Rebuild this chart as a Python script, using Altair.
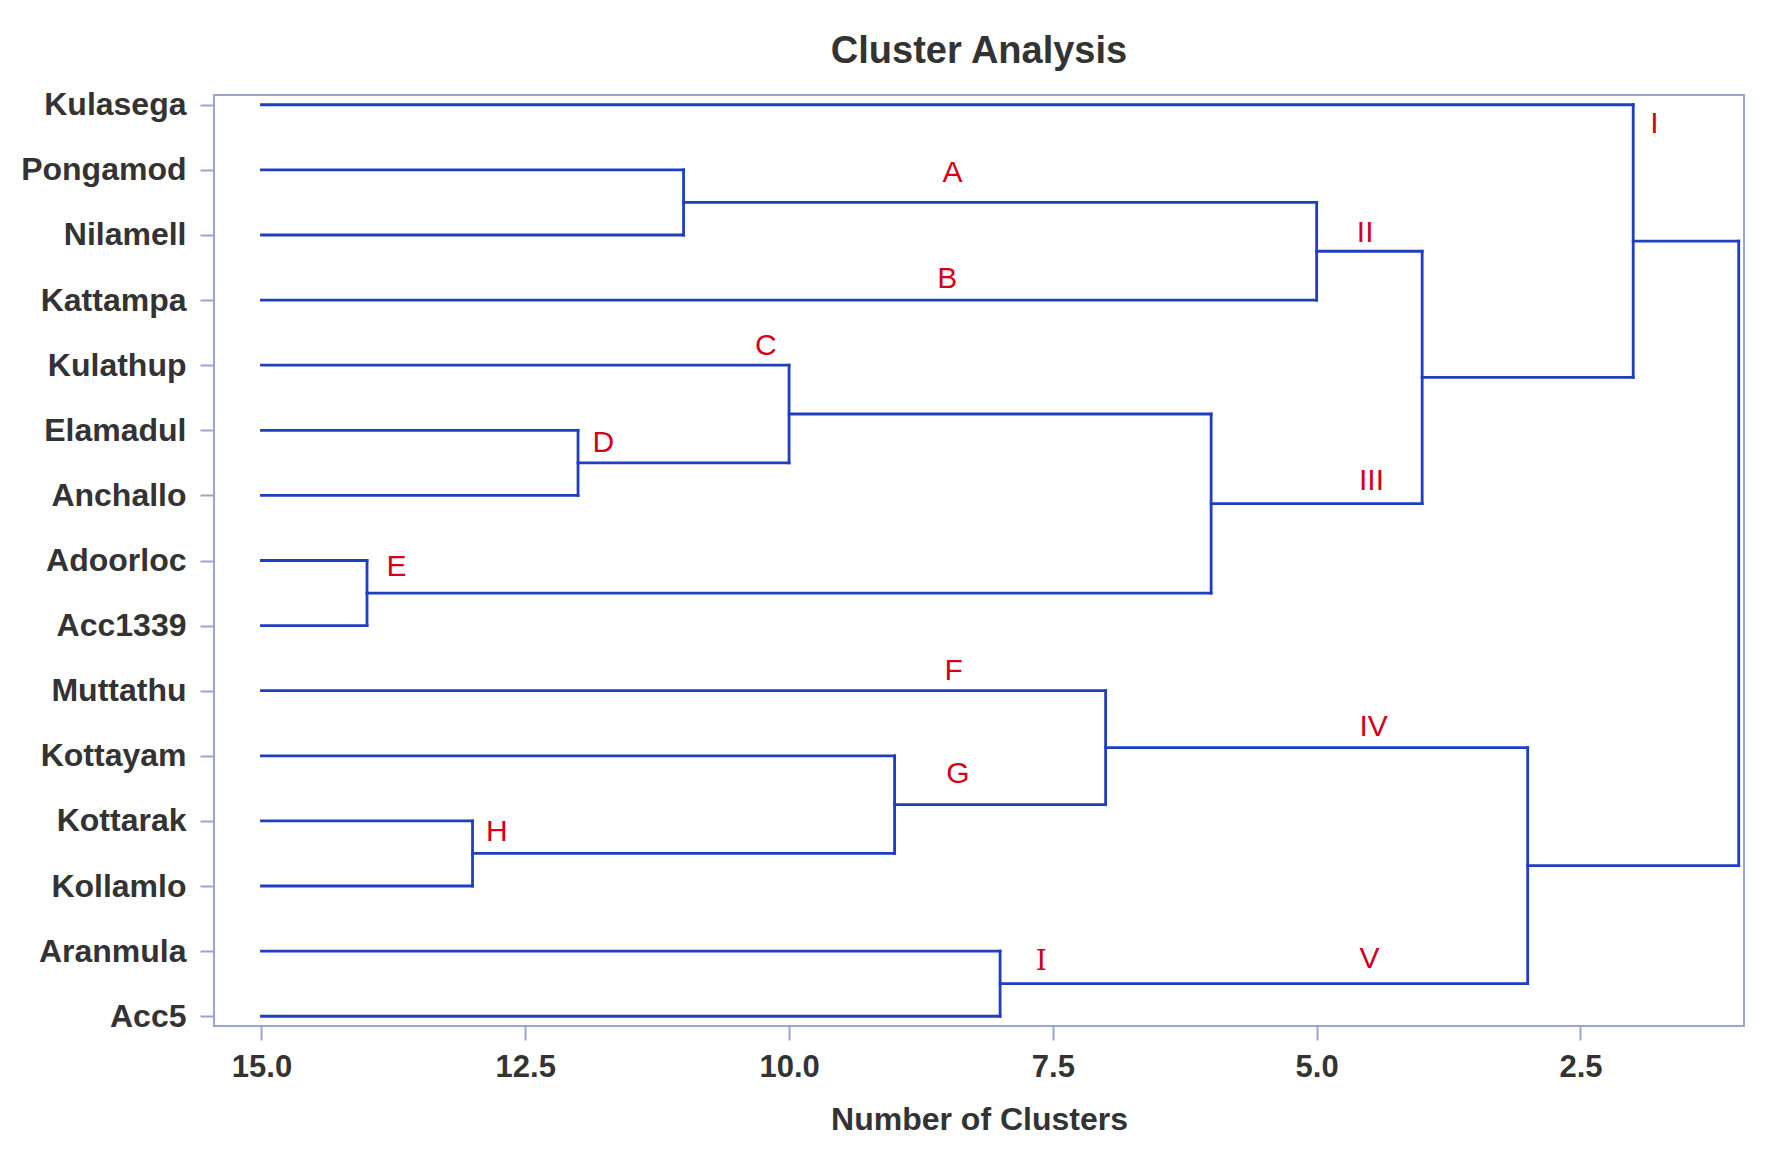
import json
import altair as alt
import pandas as pd

# Leaves, top to bottom
leaves = ["Kulasega", "Pongamod", "Nilamell", "Kattampa", "Kulathup", "Elamadul",
          "Anchallo", "Adoorloc", "Acc1339", "Muttathu", "Kottayam", "Kottarak",
          "Kollamlo", "Aranmula", "Acc5"]
leaf_level = 15.0

# Merges: node name, first child, second child, number of clusters at merge
merge_name = ["m1", "m2", "m3", "m4", "m5", "m6", "m7", "m8", "m9", "m10", "m11", "m12", "m13", "m14"]
merge_a = ["Adoorloc", "Kottarak", "Elamadul", "Pongamod", "Kulathup", "Kottayam", "Aranmula",
           "Muttathu", "m5", "m4", "m10", "m8", "Kulasega", "m13"]
merge_b = ["Acc1339", "Kollamlo", "Anchallo", "Nilamell", "m3", "m2", "Acc5",
           "m6", "m1", "Kattampa", "m9", "m7", "m11", "m12"]
merge_level = [14, 13, 12, 11, 10, 9, 8, 7, 6, 5, 4, 3, 2, 1]

# Cluster annotations
label_text = ["I", "A", "II", "B", "C", "D", "III", "E", "F", "IV", "G", "H", "V"]
label_x = [1.8, 8.45, 4.54, 8.5, 10.22, 11.76, 4.48, 13.72, 8.44, 4.46, 8.4, 12.77, 4.5]
label_y = [0.3, 1.05, 1.97, 2.67, 3.7, 5.2, 5.78, 7.1, 8.69, 9.56, 10.28, 11.17, 13.12]
serif_label_text = ["I"]
serif_label_x = [7.61]
serif_label_y = [13.16]

# Build dendrogram segments from the merge table
pos = {name: i for i, name in enumerate(leaves)}
lvl = {name: leaf_level for name in leaves}
segs = []
for n, a, b, h in zip(merge_name, merge_a, merge_b, merge_level):
    ya, yb = pos[a], pos[b]
    segs.append({"x": lvl[a], "x2": h, "y": ya, "y2": ya})
    segs.append({"x": lvl[b], "x2": h, "y": yb, "y2": yb})
    segs.append({"x": h, "x2": h, "y": ya, "y2": yb})
    pos[n] = (ya + yb) / 2
    lvl[n] = h
seg_df = pd.DataFrame(segs)
lab_df = pd.DataFrame({"t": label_text, "x": label_x, "y": label_y})
slab_df = pd.DataFrame({"t": serif_label_text, "x": serif_label_x, "y": serif_label_y})

xscale = alt.Scale(domain=[15.45, 0.95], nice=False, zero=False)
yscale = alt.Scale(domain=[-0.15, 14.15], reverse=True, nice=False, zero=False)

frame = "#9ba5cf"
text_col = "#333333"
FONT = "Liberation Sans"

lines = alt.Chart(seg_df).mark_rule(color="#1f3fbf", strokeWidth=2.8, strokeCap="square").encode(
    x=alt.X("x:Q", scale=xscale, title="Number of Clusters",
            axis=alt.Axis(values=[15.0, 12.5, 10.0, 7.5, 5.0, 2.5], format=".1f", grid=False,
                          domain=False, tickColor=frame, tickWidth=2, tickSize=14,
                          labelPadding=12, labelFontSize=31, labelFont=FONT, labelFontWeight="bold",
                          labelColor=text_col, titleFontSize=32, titleFont=FONT,
                          titleFontWeight="bold", titleColor=text_col, titlePadding=22)),
    x2="x2:Q",
    y=alt.Y("y:Q", scale=yscale, title=None,
            axis=alt.Axis(values=list(range(len(leaves))),
                          labelExpr=json.dumps(leaves) + "[datum.value]",
                          grid=False, domain=False, tickColor=frame, tickWidth=2, tickSize=14,
                          labelPadding=14, labelFontSize=32, labelFont=FONT, labelFontWeight="bold",
                          labelColor=text_col)),
    y2="y2:Q",
)

labels = alt.Chart(lab_df).mark_text(color="#d4001a", fontSize=30, font=FONT,
                                     align="center", baseline="middle").encode(
    x=alt.X("x:Q", scale=xscale), y=alt.Y("y:Q", scale=yscale), text="t:N")

serif_labels = alt.Chart(slab_df).mark_text(color="#d4001a", fontSize=28, font="DejaVu Serif",
                                            align="center", baseline="middle").encode(
    x=alt.X("x:Q", scale=xscale), y=alt.Y("y:Q", scale=yscale), text="t:N")

chart = alt.layer(lines, labels, serif_labels).properties(
    width=1530, height=931,
    title=alt.TitleParams("Cluster Analysis", fontSize=38, font=FONT, fontWeight="bold",
                          color=text_col, offset=18, anchor="middle"),
    padding={"left": 12, "top": 24, "right": 5, "bottom": 5},
).configure_view(stroke=frame, strokeWidth=2)

chart.save("out.html", embed_options={"renderer": "svg", "actions": False})
